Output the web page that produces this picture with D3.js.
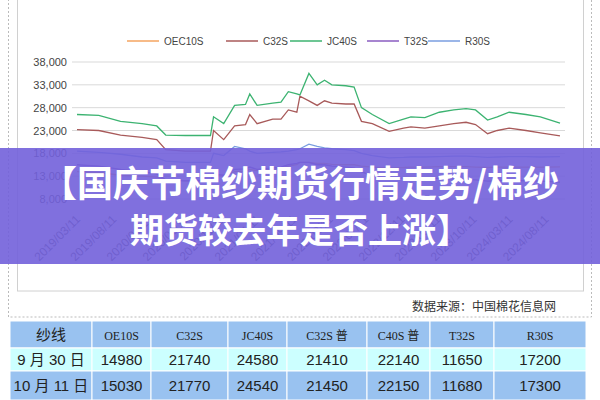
<!DOCTYPE html>
<html><head><meta charset="utf-8">
<script src="https://cdn.jsdelivr.net/npm/d3@7"></script>
<style>body{margin:0;background:#fff}svg{display:block;font-family:"Liberation Sans","Noto Sans CJK SC",sans-serif}</style>
</head><body><svg id="c" width="600" height="400"></svg>
<script>
const seriesNames=["OEC10S","C32S","JC40S","T32S","R30S"];
const seriesColors=["#f4a460","#a85a5a","#3cb371","#8a5cc0","#7a9ee0"];
const dates=["2019-03-11","2019-06-11","2019-09-11","2019-12-11","2020-02-11","2020-03-20","2020-06-11","2020-09-25","2020-10-08","2020-11-20","2021-01-05","2021-02-20","2021-03-10","2021-04-10","2021-06-15","2021-07-20","2021-08-20","2021-09-25","2021-10-08","2021-11-15","2021-12-20","2022-01-20","2022-02-20","2022-04-20","2022-05-25","2022-06-25","2022-08-10","2022-10-20","2022-12-20","2023-01-20","2023-03-20","2023-05-20","2023-07-20","2023-09-10","2023-10-20","2023-12-10","2024-01-20","2024-03-10","2024-05-20","2024-07-20","2024-10-11"];
const JC40S=[26500,26300,25000,24500,24000,22000,21900,21900,26000,24500,28500,28700,31000,28500,29000,29200,31500,31000,30800,35500,33000,34000,33000,32800,32500,28000,26500,24500,25500,26000,25800,27000,27500,27800,27500,25300,26000,27000,26500,26000,24600];
const C32S=[23200,23000,22000,21500,21000,18800,18500,18500,23000,21000,24000,24300,26500,24500,25500,25500,27500,27000,30500,29500,28500,29500,29000,28800,28800,25000,24500,22800,23500,23800,23500,24000,24500,24800,24300,22300,23000,23500,23000,22500,21800];
const R30S=[18500,18200,17800,17200,17000,16300,16000,16000,18000,17500,19500,19000,18500,18000,18200,18300,18500,18800,19000,20000,19500,19200,19000,18800,18600,18000,17500,17000,17100,17200,17200,17300,17400,17400,17300,17100,17200,17300,17300,17200,17300];
const T32S=[15500,15200,14500,14000,13500,12200,12000,12000,13500,13200,14500,14600,15000,14500,14800,15000,15500,15800,16000,16000,15500,15500,15200,15000,14800,14000,13000,12500,12600,12700,12600,12500,12400,12300,12200,11900,12000,12100,12000,11900,11700];
const OEC10S=[14000,13800,13200,13000,12800,12200,12000,12000,13200,13000,14000,14100,14500,14200,14500,14800,15200,15500,16000,16000,15800,15800,15600,15500,15500,15200,15000,14800,14900,15000,15000,15100,15100,15100,15000,14900,15000,15000,15000,14950,15030];
const yTicks=[8000,13000,18000,23000,28000,33000,38000];
const xTickLabels=["2019/03/11","2019/08/11","2020/01/11","2020/06/11","2020/11/11","2021/04/11","2021/09/11","2022/02/11","2022/07/11","2022/12/11","2023/05/11","2023/10/11","2024/03/11","2024/08/11"];
const titleLines=["【国庆节棉纱期货行情走势/棉纱","期货较去年是否上涨】"];
const tableHeader=["纱线","OE10S","C32S","JC40S","C32S 普","C40S 普","T32S","R30S"];
const tableRows=[["9 月 30 日","14980","21740","24580","21410","22140","11650","17200"],["10 月 11 日","15030","21770","24540","21450","22150","11680","17300"]];
const source="数据来源：中国棉花信息网";

const svg=d3.select("#c");
const pt=d3.timeParse("%Y-%m-%d"), pt2=d3.timeParse("%Y/%m/%d");
svg.append("rect").attr("x",8.5).attr("y",-1).attr("width",583).attr("height",318).attr("fill","none").attr("stroke","#bbb").attr("stroke-dasharray","2,2");
svg.append("rect").attr("x",17.5).attr("y",-1).attr("width",566).attr("height",292).attr("fill","#fff").attr("stroke","#d0d0d0");
const x=d3.scaleTime().domain([pt("2019-03-11"),pt("2024-10-11")]).range([77,560]);
const y=d3.scaleLinear().domain([8000,38000]).range([199,62]);
const g=svg.append("g");
g.selectAll("line.grid").data(yTicks).join("line").attr("x1",72).attr("x2",565).attr("y1",d=>y(d)).attr("y2",d=>y(d)).attr("stroke","#d9d9d9");
g.selectAll("text.yt").data(yTicks).join("text").attr("x",67).attr("y",d=>y(d)+4).attr("text-anchor","end").attr("font-size",11).attr("fill","#444").text(d3.format(","));
xTickLabels.forEach(l=>{const xx=x(pt2(l));g.append("text").attr("transform",`translate(${xx+4},${220}) rotate(-45)`).attr("text-anchor","end").attr("font-size",12).attr("fill","#555").text(l);});
const data={OEC10S,C32S,JC40S,T32S,R30S};
const line=d3.line().x((d,i)=>x(pt(dates[i]))).y(d=>y(d));
seriesNames.forEach((n,i)=>g.append("path").attr("d",line(data[n])).attr("fill","none").attr("stroke",seriesColors[i]).attr("stroke-width",1.3));
const lx=[127,226,290,367,428];
seriesNames.forEach((n,i)=>{g.append("line").attr("x1",lx[i]).attr("x2",lx[i]+32).attr("y1",41).attr("y2",41).attr("stroke",seriesColors[i]).attr("stroke-width",1.5);
g.append("text").attr("x",lx[i]+37).attr("y",45).attr("font-size",10).attr("fill","#444").text(n);});
svg.append("text").attr("x",556).attr("y",311).attr("text-anchor","end").attr("font-size",12).attr("fill","#333").text(source);
svg.append("rect").attr("x",0).attr("y",148).attr("width",600).attr("height",116).attr("fill","#7260da").attr("opacity",0.9);
titleLines.forEach((t,i)=>svg.append("text").attr("x",300).attr("y",[197,243][i]).attr("text-anchor","middle").attr("font-size",[36,34][i]).attr("font-weight","bold").attr("fill","#fff").attr("font-family","Noto Sans CJK SC").text(t));
const cols=[10,92,151,228,287,367,430,494,586];
const rowsY=[321,348,371,400];
const all=[tableHeader,...tableRows];
const fills=["#99c2f0","#ccffff","#99c2f0"];
all.forEach((r,ri)=>r.forEach((c,ci)=>{
 svg.append("rect").attr("x",cols[ci]).attr("y",rowsY[ri]).attr("width",cols[ci+1]-cols[ci]).attr("height",rowsY[ri+1]-rowsY[ri]).attr("fill",fills[ri]).attr("stroke","#fff").attr("stroke-width",1);
 svg.append("text").attr("x",(cols[ci]+cols[ci+1])/2).attr("y",(rowsY[ri]+rowsY[ri+1])/2+5).attr("text-anchor","middle").attr("font-size",ri==0&&ci>0?12:15).attr("fill","#222").attr("font-family",ri==0&&ci>0?"Liberation Serif, Noto Sans CJK SC":"Liberation Sans, Noto Sans CJK SC").text(c);
}));
</script></body></html>
